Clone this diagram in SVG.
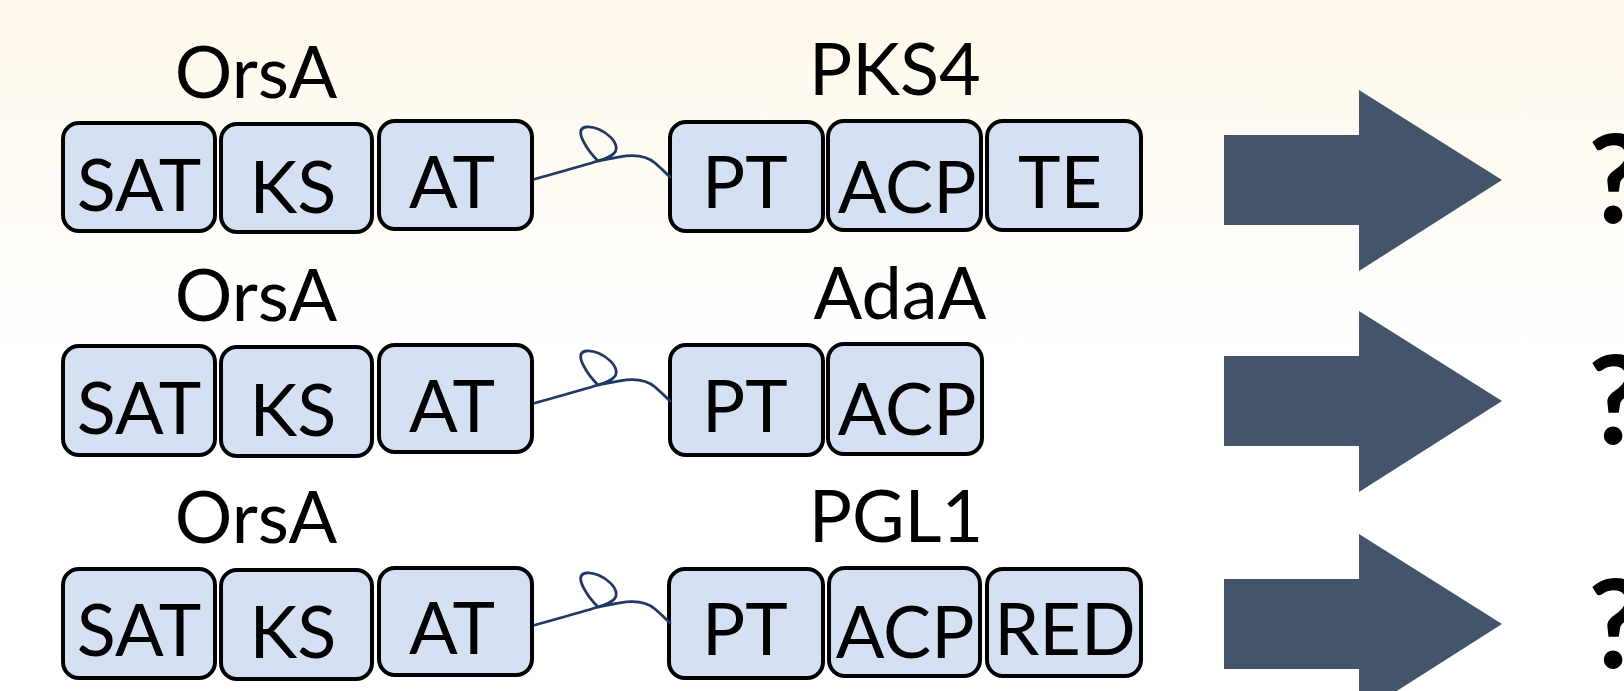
<svg xmlns="http://www.w3.org/2000/svg" xmlns:xlink="http://www.w3.org/1999/xlink" width="1624" height="691" viewBox="0 0 1624 691">
<defs>
<linearGradient id="bg" x1="0" y1="0" x2="0" y2="691" gradientUnits="userSpaceOnUse">
<stop offset="0" stop-color="#FFF8EA"/>
<stop offset="0.5" stop-color="#FFFFFF"/>
<stop offset="1" stop-color="#FFFFFF"/>
</linearGradient>
<path id="linker" d="M535,179 C560,172 582,166 598,161 C589,152 572,129 586,127 C602,125 626,146 612,155 C606,159 599,161 594,162 C618,157 640,150 655,163 C662,169 667,174 670,177"/>
<path id="bigarrow" d="M1224,135 L1359,135 L1359,90 L1502,180 L1359,271 L1359,225 L1224,225 Z"/>
</defs>
<style>
.dom{fill:#D6E0F3;stroke:#000;stroke-width:4}
.t{font-family:Lato,"Open Sans","Liberation Sans",sans-serif;font-size:72px;fill:#000;text-anchor:middle}
.q{font-family:Lato,"Open Sans","Liberation Sans",sans-serif;font-size:122px;font-weight:700;fill:#000}
.lnk{fill:none;stroke:#1F3864;stroke-width:2.8;stroke-linecap:round}
.arr{fill:#44546A}
</style>
<rect x="0" y="0" width="1624" height="691" fill="url(#bg)"/>

<g id="row1">
<g id="orsA-1">
<text class="t" x="256" y="98">OrsA</text>
<g id="orsA-1-SAT"><rect class="dom" x="63" y="123" width="152" height="108" rx="16"/><text class="t" x="139" y="211">SAT</text></g>
<g id="orsA-1-KS"><rect class="dom" x="221" y="124" width="151" height="108" rx="16"/><text class="t" x="293" y="213">KS</text></g>
<g id="orsA-1-AT"><rect class="dom" x="379" y="121" width="153" height="108" rx="16"/><text class="t" x="452" y="208">AT</text></g>
</g>
<g id="pks4">
<text class="t" x="895" y="95">PKS4</text>
<g id="pks4-PT"><rect class="dom" x="670" y="122" width="153" height="109" rx="16"/><text class="t" x="745" y="208">PT</text></g>
<g id="pks4-ACP"><rect class="dom" x="828" y="121" width="153" height="109" rx="16"/><text class="t" x="907" y="213">ACP</text></g>
<g id="pks4-TE"><rect class="dom" x="987" y="121" width="154" height="109" rx="16"/><text class="t" x="1060" y="208">TE</text></g>
</g>
</g>

<g id="row2">
<g id="orsA-2">
<text class="t" x="256" y="321">OrsA</text>
<g id="orsA-2-SAT"><rect class="dom" x="63" y="346" width="152" height="109" rx="16"/><text class="t" x="139" y="434">SAT</text></g>
<g id="orsA-2-KS"><rect class="dom" x="221" y="347" width="151" height="109" rx="16"/><text class="t" x="293" y="436">KS</text></g>
<g id="orsA-2-AT"><rect class="dom" x="379" y="345" width="153" height="107" rx="16"/><text class="t" x="452" y="432">AT</text></g>
</g>
<g id="adaA">
<text class="t" x="900" y="319">AdaA</text>
<g id="adaA-PT"><rect class="dom" x="670" y="345" width="153" height="110" rx="16"/><text class="t" x="745" y="432">PT</text></g>
<g id="adaA-ACP"><rect class="dom" x="828" y="344" width="154" height="110" rx="16"/><text class="t" x="907" y="435">ACP</text></g>
</g>
</g>

<g id="row3">
<g id="orsA-3">
<text class="t" x="256" y="543">OrsA</text>
<g id="orsA-3-SAT"><rect class="dom" x="63" y="569" width="152" height="109" rx="16"/><text class="t" x="139" y="656">SAT</text></g>
<g id="orsA-3-KS"><rect class="dom" x="221" y="570" width="151" height="109" rx="16"/><text class="t" x="293" y="658">KS</text></g>
<g id="orsA-3-AT"><rect class="dom" x="379" y="568" width="153" height="107" rx="16"/><text class="t" x="452" y="654">AT</text></g>
</g>
<g id="pgl1">
<text class="t" x="896" y="542">PGL1</text>
<g id="pgl1-PT"><rect class="dom" x="669" y="569" width="154" height="109" rx="16"/><text class="t" x="745" y="655">PT</text></g>
<g id="pgl1-ACP"><rect class="dom" x="829" y="568" width="151" height="108" rx="16"/><text class="t" x="905" y="658">ACP</text></g>
<g id="pgl1-RED"><rect class="dom" x="987" y="569" width="154" height="107" rx="16"/><text class="t" x="1065" y="655">RED</text></g>
</g>
</g>

<g id="connectors">
<use xlink:href="#linker" href="#linker" class="lnk"/>
<use xlink:href="#linker" href="#linker" class="lnk" transform="translate(0,224)"/>
<use xlink:href="#linker" href="#linker" class="lnk" transform="translate(0,446)"/>
</g>

<g id="arrows">
<g id="arrow-1"><use xlink:href="#bigarrow" href="#bigarrow" class="arr"/></g>
<g id="arrow-2"><use xlink:href="#bigarrow" href="#bigarrow" class="arr" transform="translate(0,221)"/></g>
<g id="arrow-3"><use xlink:href="#bigarrow" href="#bigarrow" class="arr" transform="translate(0,444)"/></g>
</g>

<g id="products">
<g id="product-1"><text class="q" x="1588" y="223">?</text></g>
<g id="product-2"><text class="q" x="1588" y="444">?</text></g>
<g id="product-3"><text class="q" x="1588" y="668">?</text></g>
</g>
</svg>
